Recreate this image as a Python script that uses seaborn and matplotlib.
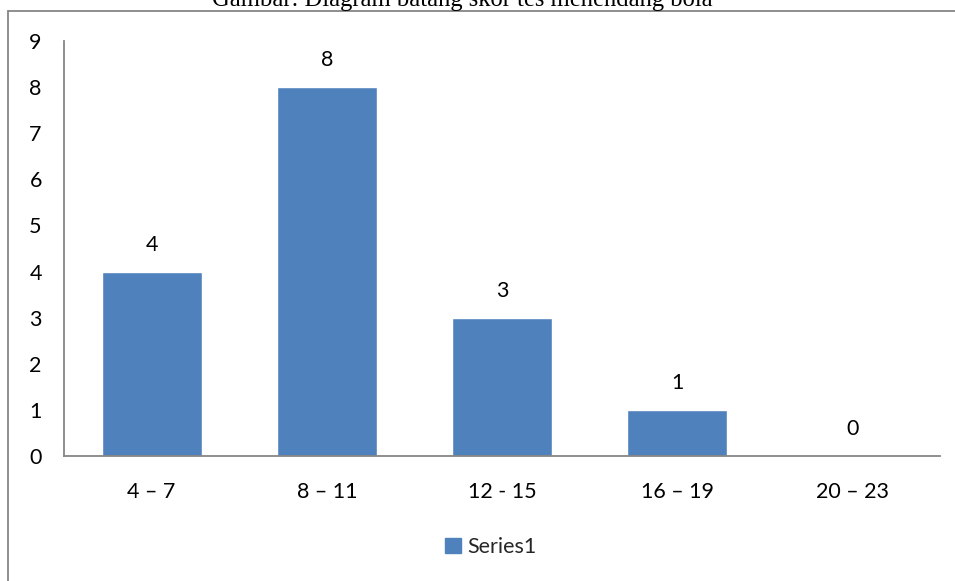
import matplotlib
matplotlib.use("Agg")
import matplotlib.pyplot as plt
from matplotlib.lines import Line2D
import seaborn as sns
import pandas as pd

# Score intervals and counts
categories = ["4 – 7", "8 – 11", "12 - 15", "16 – 19", "20 – 23"]
counts = [4, 8, 3, 1, 0]
series_name = "Series1"
y_ticks = list(range(0, 10))
title_text = "Gambar: Diagram batang skor tes menendang bola"

sns.set_theme(style="white")
plt.rcParams["font.family"] = ["Lato", "DejaVu Sans"]

df = pd.DataFrame({"interval": categories, "count": counts, "series": series_name})

fig = plt.figure(figsize=(9.55, 5.81), dpi=100)
ax = fig.add_axes([64 / 955, 1 - 456 / 581, 876 / 955, 415 / 581])

bar_color = "#4F81BD"
sns.barplot(data=df, x="interval", y="count", hue="series", palette=[bar_color],
            width=0.57, ax=ax, legend=False, saturation=1)

for container in ax.containers:
    ax.bar_label(container, labels=[str(v) for v in counts], padding=12, fontsize=15.5, color="black")

ax.set_xlim(-0.5, len(categories) - 0.5)
ax.set_ylim(0, 9)
ax.set_yticks(y_ticks)
ax.set_xlabel("")
ax.set_ylabel("")
ax.tick_params(axis="both", length=0, labelsize=15.5, colors="black")
ax.tick_params(axis="y", pad=16)
ax.tick_params(axis="x", pad=19)

spine_color = "#868686"
for side in ["top", "right"]:
    ax.spines[side].set_visible(False)
for side in ["left", "bottom"]:
    ax.spines[side].set_color(spine_color)
    ax.spines[side].set_linewidth(1.3)

# Legend below the plot
handle = plt.Rectangle((0, 0), 1, 1, color=bar_color)
fig.legend([handle], [series_name], loc="center", bbox_to_anchor=(491 / 955, 1 - 547 / 581),
           frameon=False, fontsize=15.5, handlelength=0.75, handleheight=0.75, handletextpad=0.3)

# Outer chart frame
fig.add_artist(Line2D([8 / 955, 8 / 955], [0, 1 - 11 / 581], transform=fig.transFigure,
                      color=spine_color, lw=1.3))
fig.add_artist(Line2D([8 / 955, 1], [1 - 11 / 581, 1 - 11 / 581], transform=fig.transFigure,
                      color=spine_color, lw=1.3))

fig.text(462 / 955, 1 - 6 / 581, title_text, ha="center", va="baseline",
         family="Liberation Serif", fontsize=17.7, color="black")

fig.savefig("out.png", dpi=100, facecolor="white")
